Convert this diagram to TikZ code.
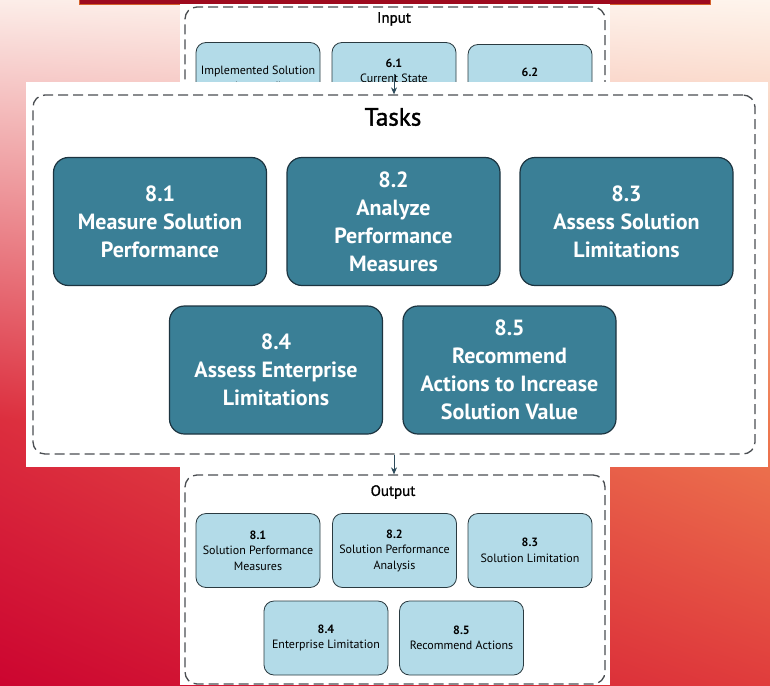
\documentclass[tikz,border=0pt]{standalone}
\usepackage{fontspec}
\setmainfont{PT Sans}
\usetikzlibrary{positioning, shadings, arrows.meta}

\definecolor{bgtl}{HTML}{FCEDE8}
\definecolor{bgtr}{HTML}{FEF4EC}
\definecolor{bgml}{HTML}{DC2E3E}
\definecolor{bgmr}{HTML}{EE7A50}
\definecolor{bgbl}{HTML}{CC0530}
\definecolor{bgbr}{HTML}{E03C3C}
\definecolor{barred}{HTML}{9E0A1E}
\definecolor{barrim}{HTML}{D4602A}
\definecolor{dashgray}{HTML}{4A4E52}
\definecolor{taskfill}{HTML}{3A7F96}
\definecolor{taskline}{HTML}{1C3440}
\definecolor{itemfill}{HTML}{B3DBE8}
\definecolor{itemline}{HTML}{2A3A40}
\definecolor{arrowblue}{HTML}{2C4A5A}

\tikzset{
  groupbox/.style={draw=dashgray, line width=1.3pt, dash pattern=on 10pt off 5pt,
    rounded corners=12pt},
  taskbox/.style={draw=taskline, fill=taskfill, line width=1.2pt, rounded corners=15pt,
    minimum width=213pt, minimum height=128pt, text=white, align=center,
    font=\bfseries\fontsize{22}{28}\selectfont},
  itembox/.style={draw=itemline, fill=itemfill, line width=0.8pt, rounded corners=10pt,
    minimum width=124pt, minimum height=74pt, align=center,
    font=\fontsize{12}{15.5}\selectfont},
  grouptitle/.style={font=\fontsize{15}{18}\selectfont\addfontfeature{FakeBold=1.2}},
}

\begin{document}
\begin{tikzpicture}[x=1pt, y=-1pt, >={Stealth[length=7pt, width=6pt]}]
    \useasboundingbox (0,0) rectangle (770,685);

    % background
    \shade[upper left=bgtl, upper right=bgtr, lower left=bgml, lower right=bgmr]
        (0,0) rectangle (770,420);
    \shade[upper left=bgml, upper right=bgmr, lower left=bgbl, lower right=bgbr]
        (0,420) rectangle (770,685);
    \draw[barrim, fill=barred, line width=1pt] (79,-2) rectangle (710,5);

    % input panel (mostly covered)
    \fill[white] (180,4) rectangle (610,82);
    \node (in_grp) [groupbox, minimum width=420pt, minimum height=123pt] at (395,68.5) {};
    \node (in_title) [grouptitle] at (394,19) {Input};
    \node (in_impl) [itembox] at (258,79.5) {Implemented Solution\\(external)};
    \node (in_61) [itembox] at (394,79.5) {\textbf{6.1}\\Current State\\Description};
    \node (in_62) [itembox] at (530,81.5) {\textbf{6.2}\\Business Objectives};
    \coordinate (in_out) at (394,74);

    % tasks panel
    \fill[white] (26,82) rectangle (768,467);
    \node (task_grp) [groupbox, minimum width=722pt, minimum height=359pt] at (394,274.5) {};
    \node (task_title) [font=\fontsize{25}{30}\selectfont\addfontfeature{FakeBold=1.5}] at (393,117) {Tasks};
    \node (t81) [taskbox] at (160,221.5) {8.1\\Measure Solution\\Performance};
    \node (t82) [taskbox] at (393.5,221.5) {8.2\\Analyze\\Performance\\Measures};
    \node (t83) [taskbox] at (626.5,221.5) {8.3\\Assess Solution\\Limitations};
    \node (t84) [taskbox] at (276,370) {8.4\\Assess Enterprise\\Limitations};
    \node (t85) [taskbox] at (509.5,370) {8.5\\Recommend\\Actions to Increase\\Solution Value};

    % output panel
    \fill[white] (180,467) rectangle (610,685);
    \node (out_grp) [groupbox, minimum width=420pt, minimum height=209pt] at (395,579.5) {};
    \node (out_title) [grouptitle] at (393,492) {Output};
    \node (o81) [itembox] at (258,550.5) {\textbf{8.1}\\Solution Performance\\Measures};
    \node (o82) [itembox] at (394.5,550.5) {\textbf{8.2}\\Solution Performance\\Analysis};
    \node (o83) [itembox] at (530,550.5) {\textbf{8.3}\\Solution Limitation};
    \node (o84) [itembox] at (326,638) {\textbf{8.4}\\Enterprise Limitation};
    \node (o85) [itembox] at (461.5,638) {\textbf{8.5}\\Recommend Actions};

    \draw[->, arrowblue, line width=1pt] (in_out) -- (in_out |- task_grp.north);
    \draw[->, arrowblue, line width=1pt] (task_grp.south -| in_out) -- (out_grp.north -| in_out);
\end{tikzpicture}
\end{document}
